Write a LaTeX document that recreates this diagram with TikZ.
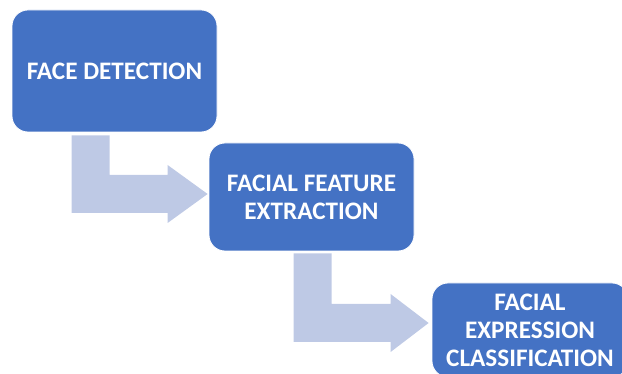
\documentclass[tikz,border=0pt]{standalone}
\usepackage{fontspec}
\usetikzlibrary{calc}
\setmainfont{Carlito}
\definecolor{boxblue}{HTML}{4472C4}
\definecolor{arrowblue}{RGB}{190,201,229}
\begin{document}
\begin{tikzpicture}[x=1pt,y=-1pt,
  stepbox/.style={rectangle, rounded corners=16pt, fill=boxblue, draw=white, line width=0.8pt,
    inner sep=0pt, align=center, text=white, font=\bfseries\fontsize{25.2}{28}\selectfont},
  blockarrow/.style={fill=arrowblue, draw=none}]
\useasboundingbox (0,0) rectangle (622,374);
\clip (0,0) rectangle (622,374);
\node[stepbox, minimum width=205pt, minimum height=122pt] (b1) at (114.5,71) {FACE DETECTION};
\node[stepbox, minimum width=205pt, minimum height=108pt] (b2) at (311.5,197) {FACIAL FEATURE\\EXTRACTION};
\node[stepbox, minimum width=196pt, minimum height=94pt] (b3) at (530,330) {FACIAL\\EXPRESSION\\CLASSIFICATION};
% arrow from b1 to b2
\coordinate (s1) at ($(b1.south west)+(60,3)$);
\coordinate (t1) at ($(b2.west)+(-1,-3)$);
\fill[blockarrow] (s1) -- ++(38,0) |- ($(t1)+(-40,-19)$) -- ++(0,-10) -- (t1)
  -- ++(-40,29) -- ++(0,-10) -| (s1) -- cycle;
% arrow from b2 to b3
\coordinate (s2) at ($(b2.south west)+(85,2)$);
\coordinate (t2) at ($(b3.west)+(-3,-7)$);
\fill[blockarrow] (s2) -- ++(38,0) |- ($(t2)+(-38,-19)$) -- ++(0,-10) -- (t2)
  -- ++(-38,29) -- ++(0,-10) -| (s2) -- cycle;
\end{tikzpicture}
\end{document}
